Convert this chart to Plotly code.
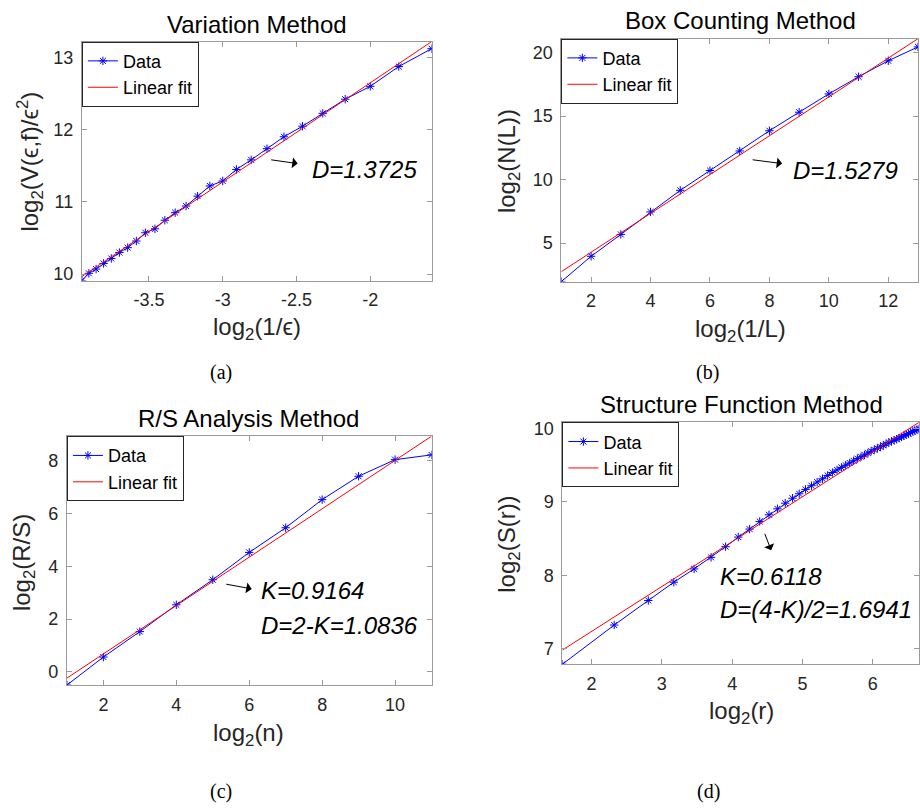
import numpy as np
import plotly.graph_objects as go

# ---------------- (a) Variation method ----------------
var_x = [-3.954, -3.907, -3.858, -3.807, -3.755, -3.700, -3.644, -3.585, -3.524,
         -3.459, -3.392, -3.322, -3.248, -3.170, -3.087, -3.000, -2.907, -2.807,
         -2.700, -2.585, -2.459, -2.322, -2.170, -2.000, -1.807, -1.585]
var_y = [9.909, 10.009, 10.068, 10.146, 10.215, 10.297, 10.365, 10.457, 10.571,
         10.626, 10.744, 10.849, 10.941, 11.078, 11.219, 11.288, 11.447, 11.580,
         11.735, 11.900, 12.046, 12.224, 12.420, 12.598, 12.872, 13.119]
var_D = 1.3725
var_xticks = [-3.5, -3, -2.5, -2]
var_xticktext = ["-3.5", "-3", "-2.5", "-2"]
var_yticks = [10, 11, 12, 13]

# ---------------- (b) Box counting method ----------------
box_x = [1, 2, 3, 4, 5, 6, 7, 8, 9, 10, 11, 12, 13]
box_y = [1.97, 3.96, 5.68, 7.45, 9.15, 10.71, 12.25, 13.84, 15.30, 16.74,
         18.09, 19.35, 20.44]
box_D = 1.5279
box_xticks = [2, 4, 6, 8, 10, 12]
box_yticks = [5, 10, 15, 20]

# ---------------- (c) R/S analysis method ----------------
rs_x = [1, 2, 3, 4, 5, 6, 7, 8, 9, 10, 11]
rs_y = [-0.50, 0.56, 1.525, 2.54, 3.49, 4.525, 5.46, 6.525, 7.41, 8.04, 8.22]
rs_K = 0.9164
rs_D = 1.0836
rs_xticks = [2, 4, 6, 8, 10]
rs_yticks = [0, 2, 4, 6, 8]

# ---------------- (d) Structure function method ----------------
sf_x = [1.585, 2.322, 2.807, 3.170, 3.459, 3.700, 3.907, 4.087, 4.248, 4.392,
        4.524, 4.644, 4.755, 4.858, 4.954, 5.044, 5.129, 5.209, 5.285, 5.358,
        5.426, 5.492, 5.555, 5.615, 5.672, 5.728, 5.781, 5.833, 5.883, 5.931,
        5.977, 6.022, 6.066, 6.109, 6.150, 6.190, 6.229, 6.267, 6.304, 6.340,
        6.375, 6.409, 6.443, 6.476, 6.508, 6.539, 6.570, 6.600, 6.629, 6.658]
sf_y = [6.787, 7.321, 7.656, 7.905, 8.086, 8.244, 8.389, 8.520, 8.629, 8.733,
        8.824, 8.905, 8.982, 9.050, 9.110, 9.170, 9.220, 9.270, 9.315, 9.360,
        9.400, 9.435, 9.470, 9.500, 9.530, 9.560, 9.590, 9.615, 9.640, 9.665,
        9.690, 9.710, 9.730, 9.750, 9.770, 9.790, 9.810, 9.825, 9.840, 9.855,
        9.870, 9.885, 9.900, 9.915, 9.930, 9.945, 9.960, 9.970, 9.985, 9.995]
sf_K = 0.6118
sf_D = 1.6941
sf_xticks = [2, 3, 4, 5, 6]
sf_yticks = [7, 8, 9, 10]

W, H = 920, 810
SANS = "Liberation Sans, Arial, Helvetica, sans-serif"
SERIF = "Liberation Serif, Times New Roman, serif"
AX_GRAY = "#9a9a9a"
TXT = "#262626"


def px_x(p):
    return p / W


def px_y(p):
    return 1 - p / H


def fit_line(x, y, slope):
    """Least-squares intercept for a fixed slope, evaluated at the ends."""
    x = np.asarray(x, float)
    y = np.asarray(y, float)
    b = y.mean() - slope * x.mean()
    xe = np.array([x.min(), x.max()])
    return xe, b + slope * xe


panels = [
    dict(x=var_x, y=var_y, slope=var_D, xt=var_xticks, xtt=var_xticktext,
         yt=var_yticks, dom_x=(82, 432), dom_y=(39, 280)),
    dict(x=box_x, y=box_y, slope=box_D, xt=box_xticks, xtt=None,
         yt=box_yticks, dom_x=(562, 919), dom_y=(36, 281)),
    dict(x=rs_x, y=rs_y, slope=rs_K, xt=rs_xticks, xtt=None,
         yt=rs_yticks, dom_x=(67, 432), dom_y=(437, 688)),
    dict(x=sf_x, y=sf_y, slope=sf_K, xt=sf_xticks, xtt=None,
         yt=sf_yticks, dom_x=(563, 920), dom_y=(423, 667)),
]

fig = go.Figure()
layout = dict(
    width=W, height=H,
    margin=dict(l=0, r=0, t=0, b=0),
    paper_bgcolor="white", plot_bgcolor="white",
    showlegend=True,
    font=dict(family=SANS, color=TXT),
)

for i, p in enumerate(panels, start=1):
    sfx = "" if i == 1 else str(i)
    xa, ya = "x" + sfx, "y" + sfx
    leg = "legend" + sfx

    fx, fy = fit_line(p["x"], p["y"], p["slope"])

    fig.add_trace(go.Scatter(
        x=p["x"], y=p["y"], mode="lines+markers", name="Data",
        xaxis=xa, yaxis=ya, legend=leg,
        line=dict(color="#0000ff", width=1),
        marker=dict(symbol="asterisk-open", size=7, color="#0000ff",
                    line=dict(color="#0000ff", width=1)),
    ))
    fig.add_trace(go.Scatter(
        x=fx, y=fy, mode="lines", name="Linear fit",
        xaxis=xa, yaxis=ya, legend=leg,
        line=dict(color="#ff0000", width=1),
    ))

    xmin, xmax = min(p["x"]), max(p["x"])
    ymin = min(min(p["y"]), fy.min())
    ymax = max(max(p["y"]), fy.max())

    common = dict(
        showline=True, linecolor=AX_GRAY, linewidth=1, mirror="ticks",
        ticks="inside", ticklen=5, tickcolor=AX_GRAY, tickwidth=1,
        showgrid=False, zeroline=False,
        tickfont=dict(family=SANS, size=18, color=TXT),
    )
    xaxis = dict(common, domain=[px_x(p["dom_x"][0]), px_x(p["dom_x"][1])],
                 range=[xmin, xmax], anchor=ya, tickvals=p["xt"],
                 ticklabelstandoff=3)
    if p["xtt"] is not None:
        xaxis["ticktext"] = p["xtt"]
    yaxis = dict(common, domain=[px_y(p["dom_y"][1]), px_y(p["dom_y"][0])],
                 range=[ymin, ymax], anchor=xa, tickvals=p["yt"],
                 ticklabelstandoff=4)
    layout["xaxis" + sfx] = xaxis
    layout["yaxis" + sfx] = yaxis

    layout[leg] = dict(
        x=px_x(p["dom_x"][0]), y=px_y(p["dom_y"][0]),
        xanchor="left", yanchor="top",
        bgcolor="white", bordercolor="#262626", borderwidth=1,
        font=dict(family=SANS, size=18, color="black"),
        itemwidth=30, tracegroupgap=0,
    )

ann = []


def text(t, x, y, size, family=SANS, color="black", angle=0,
         xanchor="center", yanchor="middle"):
    ann.append(dict(text=t, x=px_x(x), y=px_y(y), xref="paper", yref="paper",
                    showarrow=False, textangle=angle, xanchor=xanchor,
                    yanchor=yanchor, font=dict(family=family, size=size,
                                               color=color)))


def arrow(tail, head):
    ann.append(dict(text="", x=px_x(head[0]), y=px_y(head[1]),
                    xref="paper", yref="paper", showarrow=True,
                    ax=tail[0] - head[0], ay=tail[1] - head[1],
                    axref="pixel", ayref="pixel",
                    arrowhead=1, arrowsize=1.8, arrowwidth=1,
                    arrowcolor="black"))


# panel titles
text("Variation Method", 257, 22, 24)
text("Box Counting Method", 741, 18, 24)
text("R/S Analysis Method", 249, 419, 24)
text("Structure Function Method", 742, 405, 24)

# axis labels
text("log<sub>2</sub>(1/ϵ)", 257, 328, 24, color=TXT)
text("log<sub>2</sub>(V(ϵ,f)/ϵ<sup>2</sup>)", 30, 160, 24, color=TXT, angle=-90)
text("log<sub>2</sub>(1/L)", 741, 330, 24, color=TXT)
text("log<sub>2</sub>(N(L))", 509, 159, 24, color=TXT, angle=-90)
text("log<sub>2</sub>(n)", 249, 738, 24, color=TXT)
text("log<sub>2</sub>(R/S)", 23, 564, 24, color=TXT, angle=-90)
text("log<sub>2</sub>(r)", 742, 716, 24, color=TXT)
text("log<sub>2</sub>(S(r))", 509, 546, 24, color=TXT, angle=-90)

# sub-figure captions
text("(a)", 221, 373, 20, family=SERIF)
text("(b)", 708, 373, 20, family=SERIF)
text("(c)", 221, 795, 20, family=SERIF)
text("(d)", 709, 795, 20, family=SERIF)

# fitted-dimension labels with pointers
arrow((270, 158), (298, 162))
text(f"<i>D={var_D:.4f}</i>", 310, 168, 24, xanchor="left")
arrow((752, 158), (783, 162))
text(f"<i>D={box_D:.4f}</i>", 792, 169, 24, xanchor="left")
arrow((225, 586), (252, 591))
text(f"<i>K={rs_K:.4f}</i>", 259, 593, 24, xanchor="left")
text(f"<i>D=2-K={rs_D:.4f}</i>", 259, 628, 24, xanchor="left")
arrow((765, 534), (772, 552))
text(f"<i>K={sf_K:.4f}</i>", 719, 578, 24, xanchor="left")
text(f"<i>D=(4-K)/2={sf_D:.4f}</i>", 719, 612, 24, xanchor="left")

layout["annotations"] = ann
fig.update_layout(**layout)
fig.write_html("out.html", config={"displayModeBar": False})
